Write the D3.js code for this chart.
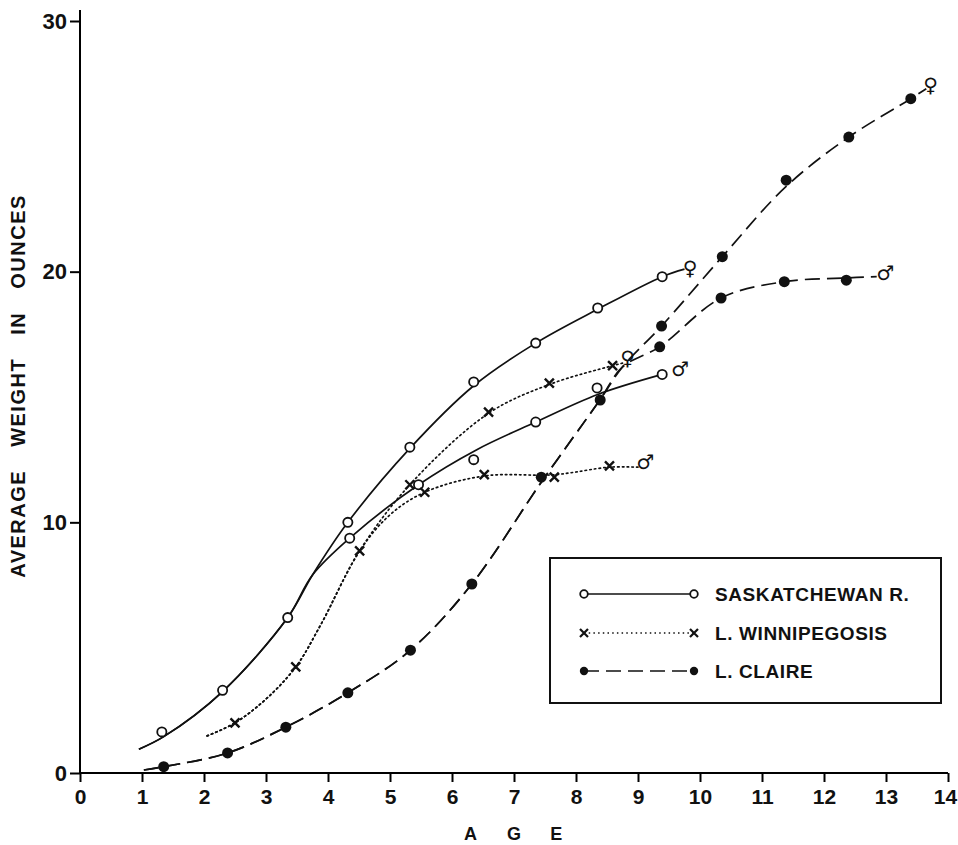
<!DOCTYPE html>
<html>
<head>
<meta charset="utf-8">
<script src="https://cdn.jsdelivr.net/npm/d3@7"></script>
<style>
body { margin: 0; background: #fff; }
text { font-family: "Liberation Sans", Arial, sans-serif; font-weight: bold; fill: #111; }
</style>
</head>
<body>
<div id="chartContainer"></div>
<script>
// ticks
var xTicks = [0,1,2,3,4,5,6,7,8,9,10,11,12,13,14];
var yTicks = [0,10,20,30];

// fitted curves (age, ounces)
var saskShared  = [[0.95,0.95],[1.35,1.45],[2.3,3.25],[3.35,6.2],[3.75,7.9]];
var saskFemale  = [[3.75,7.9],[4.32,10.0],[5.32,12.95],[6.35,15.45],[7.35,17.15],[8.35,18.5],[9.39,19.8],[9.75,20.1]];
var saskMale    = [[3.75,7.9],[4.35,9.37],[5.46,11.5],[6.4,12.9],[7.35,14.0],[8.35,15.1],[9.39,15.9]];

var winnShared  = [[2.05,1.48],[2.5,2.0],[3.0,2.95],[3.48,4.23],[3.88,5.9],[4.51,8.86]];
var winnFemale  = [[4.51,8.86],[5.32,11.5],[6.59,14.35],[7.57,15.5],[8.59,16.25],[8.75,16.35]];
var winnMale    = [[4.51,8.86],[5.0,10.3],[5.56,11.2],[6.52,11.85],[7.65,11.9],[8.54,12.2],[9.0,12.2]];

var claireShared = [[1.03,0.12],[1.35,0.25],[2.38,0.8],[3.32,1.83],[4.32,3.2],[5.33,4.9],[6.32,7.54],[7.44,11.6],[8.39,14.9],[8.75,16.2]];
var claireFemale = [[8.75,16.2],[9.38,17.83],[10.36,20.6],[11.39,23.4],[12.4,25.37],[13.4,26.9],[13.65,27.3]];
var claireMale   = [[8.75,16.2],[9.35,17.0],[10.34,18.95],[11.36,19.6],[12.36,19.75],[12.85,19.8]];

// observed points
var saskPtsF  = [[1.32,1.64],[2.3,3.3],[3.35,6.2],[4.32,10.0],[5.32,13.0],[6.35,15.6],[7.35,17.15],[8.35,18.55],[9.39,19.8]];
var saskPtsM  = [[4.35,9.37],[5.46,11.5],[6.35,12.5],[7.35,14.0],[8.34,15.36],[9.39,15.9]];
var winnPtsF  = [[2.5,2.0],[3.48,4.23],[4.51,8.86],[5.32,11.5],[6.59,14.4],[7.57,15.55],[8.59,16.25]];
var winnPtsM  = [[5.56,11.2],[6.52,11.9],[7.65,11.8],[8.54,12.25]];
var clairePtsF = [[1.35,0.25],[2.38,0.8],[3.32,1.83],[4.32,3.2],[5.33,4.9],[6.32,7.54],[7.44,11.8],[8.39,14.88],[9.38,17.83],[10.36,20.6],[11.39,23.65],[12.4,25.37],[13.4,26.9]];
var clairePtsM = [[9.35,17.0],[10.34,18.95],[11.36,19.6],[12.36,19.66]];

// sex symbols at curve ends
var sexLabels = [
    {sym: "\u2640", x: 9.84, y: 20.15},
    {sym: "\u2642", x: 9.68, y: 16.1},
    {sym: "\u2640", x: 8.83, y: 16.55},
    {sym: "\u2642", x: 9.12, y: 12.4},
    {sym: "\u2640", x: 13.72, y: 27.45},
    {sym: "\u2642", x: 12.99, y: 19.95}
];

var legendNames = ["SASKATCHEWAN R.", "L. WINNIPEGOSIS", "L. CLAIRE"];
var xTitle = ["A", "G", "E"];
var xTitlePos = [6.3, 7.0, 7.68];

var svg = d3.select("#chartContainer").append("svg")
    .attr("width", 958).attr("height", 845);

var x = d3.scaleLinear().domain([0,14]).range([80,948]);
var y = d3.scaleLinear().domain([0,30]).range([773,21]);

var line = d3.line()
    .x(function(d){ return x(d[0]); })
    .y(function(d){ return y(d[1]); })
    .curve(d3.curveCatmullRom.alpha(0.5));

var styles = {
    solid:  {dash: null},
    dotted: {dash: "1.5,3.2"},
    dashed: {dash: "15,7"}
};

// axes
var xAxis = d3.axisBottom(x).tickValues(xTicks).tickSize(9).tickPadding(7);
var gx = svg.append("g").attr("transform", "translate(0,773)").call(xAxis);
gx.select(".domain").attr("d", "M80,0H948").attr("stroke-width", 2);
gx.selectAll(".tick line").attr("stroke-width", 2);
gx.selectAll(".tick text").style("font-size", "21px").attr("fill", "#111")
    .attr("dx", function(d){ return d == 14 ? -3 : 0; });

var yAxis = d3.axisLeft(y).tickValues(yTicks).tickSize(10).tickPadding(3);
var gy = svg.append("g").attr("transform", "translate(80,0)").call(yAxis);
gy.select(".domain").attr("d", "M0,10V773").attr("stroke-width", 2);
gy.selectAll(".tick line").attr("stroke-width", 2);
gy.selectAll(".tick text").style("font-size", "22px").attr("fill", "#111");

// axis titles
svg.append("text")
    .attr("transform", "translate(25,386) rotate(-90)")
    .attr("text-anchor", "middle")
    .style("font-size", "20px")
    .style("letter-spacing", "1.5px")
    .style("word-spacing", "16px")
    .text("AVERAGE WEIGHT IN OUNCES");

svg.append("g").selectAll("text").data(xTitle).enter().append("text")
    .attr("x", function(d, i){ return x(xTitlePos[i]); })
    .attr("y", 840)
    .attr("text-anchor", "middle")
    .style("font-size", "18px")
    .text(function(d){ return d; });

// curves: shared part + branch so the join stays smooth
function drawCurve(pts, style){
    svg.append("path")
        .datum(pts)
        .attr("d", line)
        .attr("fill", "none")
        .attr("stroke", "#111")
        .attr("stroke-width", 1.7)
        .attr("stroke-dasharray", styles[style].dash)
        .attr("stroke-linecap", style == "dotted" ? "round" : "butt");
}

drawCurve(saskShared.concat(saskFemale.slice(1)), "solid");
drawCurve(saskShared.concat(saskMale.slice(1)), "solid");
drawCurve(winnShared.concat(winnFemale.slice(1)), "dotted");
drawCurve(winnShared.concat(winnMale.slice(1)), "dotted");
drawCurve(claireShared.concat(claireFemale.slice(1)), "dashed");
drawCurve(claireShared.concat(claireMale.slice(1)), "dashed");

// markers
function openCircles(pts, r){
    svg.append("g").selectAll("circle").data(pts).enter().append("circle")
        .attr("cx", function(d){ return x(d[0]); })
        .attr("cy", function(d){ return y(d[1]); })
        .attr("r", r)
        .attr("fill", "#fff").attr("stroke", "#111").attr("stroke-width", 1.8);
}
function dots(pts, r){
    svg.append("g").selectAll("circle").data(pts).enter().append("circle")
        .attr("cx", function(d){ return x(d[0]); })
        .attr("cy", function(d){ return y(d[1]); })
        .attr("r", r)
        .attr("fill", "#111");
}
function crosses(pts, s){
    svg.append("g").selectAll("path").data(pts).enter().append("path")
        .attr("d", function(d){
            var cx = x(d[0]), cy = y(d[1]);
            return "M" + (cx-s) + "," + (cy-s) + "L" + (cx+s) + "," + (cy+s) +
                   "M" + (cx-s) + "," + (cy+s) + "L" + (cx+s) + "," + (cy-s);
        })
        .attr("stroke", "#111").attr("stroke-width", 2.4).attr("fill", "none");
}

openCircles(saskPtsF, 4.6);
openCircles(saskPtsM, 4.6);
crosses(winnPtsF, 4.5);
crosses(winnPtsM, 4.5);
dots(clairePtsF, 5.5);
dots(clairePtsM, 5.5);

// sex symbols
svg.append("g").selectAll("text").data(sexLabels).enter().append("text")
    .attr("x", function(d){ return x(d.x); })
    .attr("y", function(d){ return y(d.y); })
    .attr("dy", "0.35em")
    .attr("text-anchor", "middle")
    .style("font-family", "DejaVu Sans")
    .style("font-size", "20px")
    .text(function(d){ return d.sym; });

// legend
var legend = svg.append("g");
legend.append("rect")
    .attr("x", 550).attr("y", 558).attr("width", 391).attr("height", 145)
    .attr("fill", "#fff").attr("stroke", "#111").attr("stroke-width", 2);

var rowY = [594, 633, 671];
var rowStyle = ["solid", "dotted", "dashed"];
legendNames.forEach(function(name, i){
    legend.append("line")
        .attr("x1", 584).attr("x2", 694)
        .attr("y1", rowY[i]).attr("y2", rowY[i])
        .attr("stroke", "#111").attr("stroke-width", 1.7)
        .attr("stroke-dasharray", styles[rowStyle[i]].dash);
    [584, 694].forEach(function(px){
        if(i == 0){
            legend.append("circle").attr("cx", px).attr("cy", rowY[i]).attr("r", 3.8)
                .attr("fill", "#fff").attr("stroke", "#111").attr("stroke-width", 1.8);
        }
        else if(i == 1){
            legend.append("path")
                .attr("d", "M" + (px-4) + "," + (rowY[i]-4) + "L" + (px+4) + "," + (rowY[i]+4) +
                           "M" + (px-4) + "," + (rowY[i]+4) + "L" + (px+4) + "," + (rowY[i]-4))
                .attr("stroke", "#111").attr("stroke-width", 2.2);
        }
        else{
            legend.append("circle").attr("cx", px).attr("cy", rowY[i]).attr("r", 4.2)
                .attr("fill", "#111");
        }
    });
    legend.append("text")
        .attr("x", 715).attr("y", rowY[i] + 7)
        .style("font-size", "19px")
        .style("letter-spacing", "0.6px")
        .text(name);
});
</script>
</body>
</html>
